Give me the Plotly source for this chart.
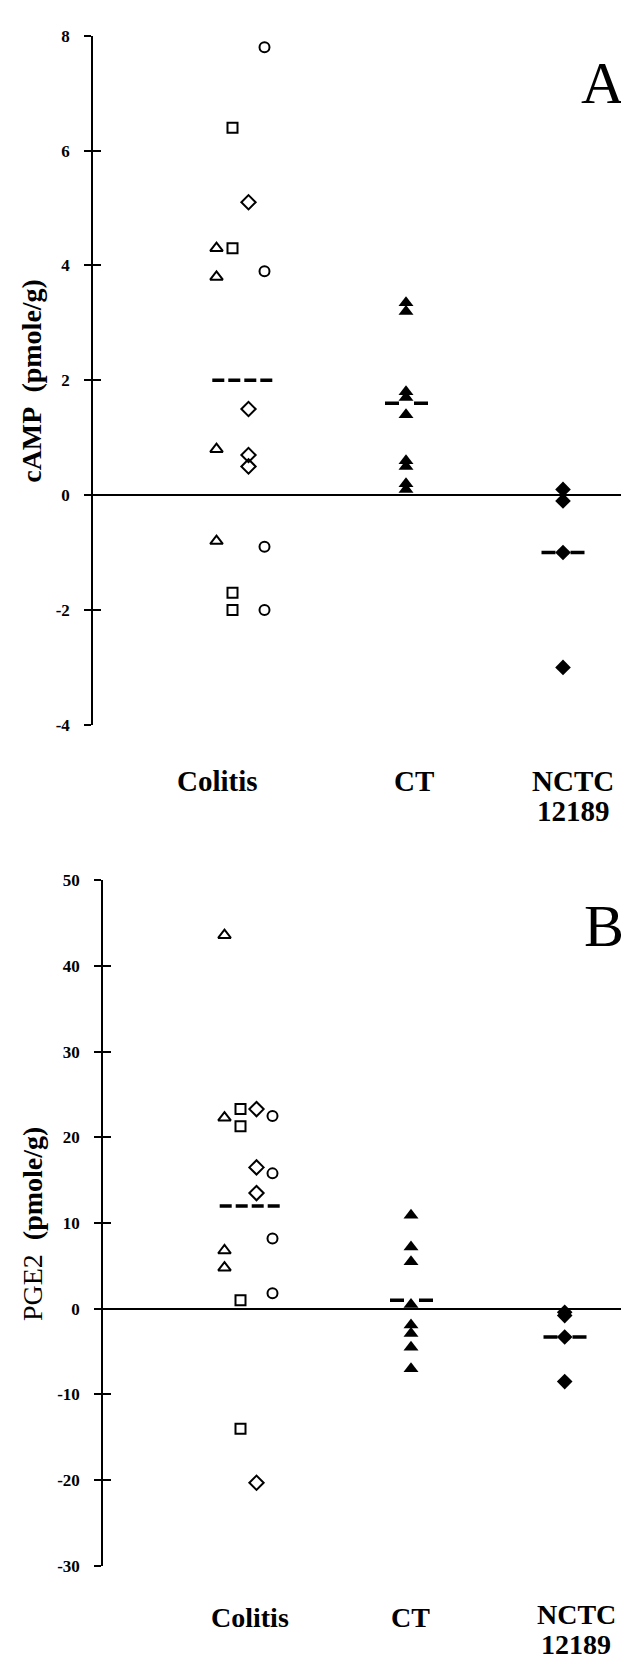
import plotly.graph_objects as go

# ---------------- data ----------------
categories = ["Colitis", "CT", "NCTC 12189"]
category_label_lines = [["Colitis"], ["CT"], ["NCTC", "12189"]]

# Panel A: cAMP (pmole/g)
camp_colitis_triangle = [4.3, 3.8, 0.8, -0.8]
camp_colitis_square = [6.4, 4.3, -1.7, -2.0]
camp_colitis_diamond = [5.1, 1.5, 0.7, 0.5]
camp_colitis_circle = [7.8, 3.9, -0.9, -2.0]
camp_ct = [3.35, 3.2, 1.8, 1.7, 1.4, 0.6, 0.5, 0.2, 0.1]
camp_nctc = [0.1, -0.1, -1.0, -3.0]
camp_means = [2.0, 1.6, -1.0]
camp_ticks = [-4, -2, 0, 2, 4, 6, 8]

# Panel B: PGE2 (pmole/g)
pge2_colitis_triangle = [43.6, 22.3, 6.8, 4.8]
pge2_colitis_square = [23.3, 21.3, 1.0, -14.0]
pge2_colitis_diamond = [23.3, 16.5, 13.5, -20.3]
pge2_colitis_circle = [22.5, 15.8, 8.2, 1.8]
pge2_ct = [10.9, 7.2, 5.5, 0.5, -1.9, -2.9, -4.5, -7.0]
pge2_nctc = [-0.4, -0.8, -3.3, -8.5]
pge2_means = [12.0, 1.0, -3.3]
pge2_ticks = [-30, -20, -10, 0, 10, 20, 30, 40, 50]

# ---------------- layout / style ----------------
W, H = 629, 1664
FONT = "Liberation Serif"

panels = {
    "A": dict(axis_px=85, ytop=19, ybot=716, yrange=[-4, 8],
              group_x=[232.5, 398, 555], mean_x=[234.3, 398.5, 555],
              label_x=[209, 406, 565], label_y=[773, 773, 773], line_gap=30,
              label_size=29, letter_xy=(594, 67)),
    "B": dict(axis_px=95, ytop=873.3, ybot=1566.7, yrange=[-30, 50],
              group_x=[240.5, 403, 556.7], mean_x=[241.7, 403.5, 557],
              label_x=[242, 402, 568], label_y=[1619, 1619, 1616], line_gap=30,
              label_size=28, letter_xy=(596, 920)),
}
sub_offsets = [-24, -8, 8, 24]     # triangle, square, diamond, circle
mean_half = [30, 21.5, 21.5]
mean_dash = ["12px,4px", "14px,15px", "14px,15px"]

fig = go.Figure()


def add_panel(key, xa, ya, colitis_sets, ct_vals, nctc_vals, means):
    p = panels[key]
    gx = p["group_x"]
    open_syms = ["triangle-up-open", "square-open", "diamond-open", "circle-open"]
    open_sizes = [11, 10, 11, 10]
    for vals, sym, off, sz in zip(colitis_sets, open_syms, sub_offsets, open_sizes):
        fig.add_trace(go.Scatter(
            x=[gx[0] + off] * len(vals), y=vals, mode="markers", xaxis=xa, yaxis=ya,
            marker=dict(symbol=sym, size=sz, color="black", line=dict(width=2, color="black")),
            showlegend=False, hoverinfo="y"))
    # mean dashed lines
    for i, m in enumerate(means):
        cx = p["mean_x"][i]
        fig.add_trace(go.Scatter(
            x=[cx - mean_half[i], cx + mean_half[i]], y=[m, m], mode="lines",
            xaxis=xa, yaxis=ya, line=dict(color="black", width=3.5, dash=mean_dash[i]),
            showlegend=False, hoverinfo="skip"))
    fig.add_trace(go.Scatter(
        x=[gx[1]] * len(ct_vals), y=ct_vals, mode="markers", xaxis=xa, yaxis=ya,
        marker=dict(symbol="triangle-up", size=13, color="black"),
        showlegend=False, hoverinfo="y"))
    fig.add_trace(go.Scatter(
        x=[gx[2]] * len(nctc_vals), y=nctc_vals, mode="markers", xaxis=xa, yaxis=ya,
        marker=dict(symbol="diamond", size=12, color="black"),
        showlegend=False, hoverinfo="y"))


add_panel("A", "x", "y",
          [camp_colitis_triangle, camp_colitis_square, camp_colitis_diamond, camp_colitis_circle],
          camp_ct, camp_nctc, camp_means)
add_panel("B", "x2", "y2",
          [pge2_colitis_triangle, pge2_colitis_square, pge2_colitis_diamond, pge2_colitis_circle],
          pge2_ct, pge2_nctc, pge2_means)


def ydom(p):
    return [1 - p["ybot"] / H, 1 - p["ytop"] / H]


pa, pb = panels["A"], panels["B"]
tickfont = dict(family=FONT, size=17, color="black", weight="bold")

common_x = dict(showgrid=False, zeroline=False, showticklabels=False, showline=False, ticks="")


def main_y(p, ticks, anchor):
    return dict(domain=ydom(p), range=p["yrange"], anchor=anchor,
                tickmode="array", tickvals=ticks, ticktext=[str(t) for t in ticks],
                ticks="outside", ticklen=7, tickwidth=1.5, tickcolor="black",
                showline=True, linecolor="black", linewidth=1.5, showgrid=False,
                zeroline=True, zerolinecolor="black", zerolinewidth=2,
                tickfont=tickfont, ticklabelstandoff=11)


def inner_y(p, ticks, overlay, anchor):
    return dict(overlaying=overlay, anchor=anchor, side="left", range=p["yrange"],
                tickmode="array", tickvals=ticks, ticks="inside", ticklen=8,
                tickwidth=1.5, tickcolor="black", showticklabels=False,
                showline=False, showgrid=False, zeroline=False)


fig.update_layout(
    width=W, height=H, margin=dict(l=0, r=0, t=0, b=0),
    paper_bgcolor="white", plot_bgcolor="white", showlegend=False,
    xaxis=dict(domain=[pa["axis_px"] / W, 1], range=[pa["axis_px"], W], anchor="y", **common_x),
    xaxis2=dict(domain=[pb["axis_px"] / W, 1], range=[pb["axis_px"], W], anchor="y2", **common_x),
    yaxis=main_y(pa, camp_ticks, "x"),
    yaxis2=main_y(pb, pge2_ticks, "x2"),
    yaxis3=inner_y(pa, camp_ticks, "y", "x"),
    yaxis4=inner_y(pb, pge2_ticks, "y2", "x2"),
)
# invisible traces so the overlay (inner tick) axes are drawn
fig.add_trace(go.Scatter(x=[W - 5], y=[0], xaxis="x", yaxis="y3", mode="markers",
                         marker=dict(opacity=0), showlegend=False, hoverinfo="skip"))
fig.add_trace(go.Scatter(x=[W - 5], y=[0], xaxis="x2", yaxis="y4", mode="markers",
                         marker=dict(opacity=0), showlegend=False, hoverinfo="skip"))

annotations = []
for key in ["A", "B"]:
    p = panels[key]
    for lines, lx, ly0 in zip(category_label_lines, p["label_x"], p["label_y"]):
        for j, line in enumerate(lines):
            annotations.append(dict(
                text="<b>" + line + "</b>", x=lx / W, y=1 - (ly0 + p["line_gap"] * j) / H,
                xref="paper", yref="paper", xanchor="center", yanchor="middle",
                showarrow=False, font=dict(family=FONT, size=p["label_size"], color="black")))
    lx, ly = p["letter_xy"]
    annotations.append(dict(
        text=key, x=lx / W, y=1 - ly / H, xref="paper", yref="paper",
        xanchor="center", yanchor="middle", showarrow=False,
        font=dict(family=FONT, size=60, color="black")))

annotations.append(dict(
    text="<b>cAMP</b>\u00a0\u00a0<b>(pmole/g)</b>", x=24 / W, y=1 - 368 / H,
    xref="paper", yref="paper", xanchor="center", yanchor="middle", textangle=-90,
    showarrow=False, font=dict(family=FONT, size=28, color="black")))
annotations.append(dict(
    text="PGE2\u00a0\u00a0<b>(pmole/g)</b>", x=24 / W, y=1 - 1221 / H,
    xref="paper", yref="paper", xanchor="center", yanchor="middle", textangle=-90,
    showarrow=False, font=dict(family=FONT, size=28, color="black")))

fig.update_layout(annotations=annotations)
fig.write_html("out.html")
